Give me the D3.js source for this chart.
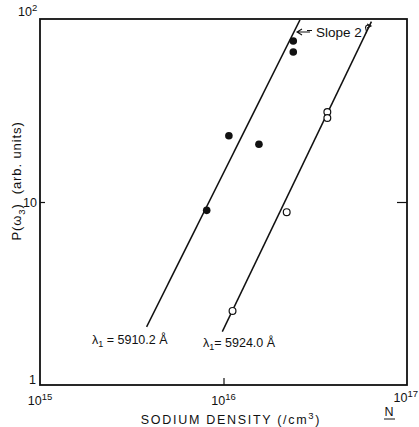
<!DOCTYPE html>
<meta charset="utf-8">
<script src="https://d3js.org/d3.v7.min.js"></script>
<style>
  body { margin: 0; background: #fff; }
  text { font-family: "Liberation Sans", Arial, sans-serif; fill: #111; }
</style>
<div id="my_dataviz"></div>
<script>

// filled dots: lambda1 = 5910.2 A
var filledN = [8.1e15, 1.07e16, 1.56e16, 2.40e16, 2.40e16];
var filledP = [9.0, 23.0, 20.7, 75.8, 66.0];

// open dots: lambda1 = 5924.0 A
var openN = [1.12e16, 2.21e16, 3.68e16, 3.68e16];
var openP = [2.54, 8.8, 31.0, 28.8];

// slope-2 fit lines (end points)
var lineFilledN = [3.81e15, 2.61e16];
var lineFilledP = [2.08, 98.8];
var lineOpenN = [9.85e15, 6.4e16];
var lineOpenP = [1.956, 96.7];

// tick labels
var xTicks = [1e15, 1e16, 1e17];
var xTickExp = ["15", "16", "17"];

var W = 419, H = 427;
var margin = {top: 19, right: 12, bottom: 42, left: 40};

var svg = d3.select("#my_dataviz")
  .append("svg")
    .attr("width", W)
    .attr("height", H);

var x = d3.scaleLog()
  .domain([1e15, 1e17])
  .range([margin.left, W - margin.right]);

var y = d3.scaleLog()
  .domain([1, 100])
  .range([H - margin.bottom, margin.top]);

// frame
svg.append("rect")
  .attr("x", x(1e15))
  .attr("y", y(100))
  .attr("width", x(1e17) - x(1e15))
  .attr("height", y(1) - y(100))
  .attr("fill", "none")
  .attr("stroke", "#111")
  .attr("stroke-width", 1.8);

// inward ticks
svg.append("g")
  .attr("transform", "translate(0," + y(1) + ")")
  .call(d3.axisBottom(x).tickValues([1e16]).tickSize(-7).tickFormat(""));
svg.append("g")
  .attr("transform", "translate(" + x(1e15) + ",0)")
  .call(d3.axisLeft(y).tickValues([10]).tickSize(-5).tickFormat(""));
svg.append("g")
  .attr("transform", "translate(" + x(1e17) + ",0)")
  .call(d3.axisRight(y).tickValues([10]).tickSize(-10).tickFormat(""));
svg.selectAll(".domain").remove();
svg.selectAll(".tick line").attr("stroke", "#111").attr("stroke-width", 1.2);

// x tick labels
var xl = svg.selectAll(".xlab")
  .data(xTicks)
  .enter()
  .append("text")
    .attr("x", function(d, i) { return i == 2 ? 418 : x(d); })
    .attr("y", function(d, i) { return y(1) + (i == 2 ? 17 : 20); })
    .attr("text-anchor", function(d, i) { return i == 2 ? "end" : "middle"; })
    .style("font-size", "12.5px");
xl.append("tspan").text("10");
xl.append("tspan")
  .attr("dy", -5)
  .style("font-size", "9.5px")
  .text(function(d, i) { return xTickExp[i]; });

// y tick labels
var y2 = svg.append("text")
  .attr("x", x(1e15) - 22)
  .attr("y", y(100) - 3)
  .style("font-size", "12.5px");
y2.append("tspan").text("10");
y2.append("tspan").attr("dy", -5).style("font-size", "9.5px").text("2");

svg.append("text")
  .attr("x", x(1e15) - 3)
  .attr("y", y(10) + 5)
  .attr("text-anchor", "end")
  .style("font-size", "12.5px")
  .text("10");

svg.append("text")
  .attr("x", x(1e15) - 4)
  .attr("y", y(1) - 1)
  .attr("text-anchor", "end")
  .style("font-size", "12.5px")
  .text("1");

// axis titles
var xt = svg.append("text")
  .attr("x", 231)
  .attr("y", 424)
  .attr("text-anchor", "middle")
  .style("font-size", "12.5px")
  .style("letter-spacing", "1.7px");
xt.append("tspan").text("SODIUM DENSITY (/cm");
xt.append("tspan").attr("dy", -5).style("font-size", "9.5px").text("3");
xt.append("tspan").attr("dy", 5).text(")");

svg.append("text")
  .attr("x", 389)
  .attr("y", 416)
  .attr("text-anchor", "middle")
  .style("font-size", "12.5px")
  .text("N");
svg.append("line")
  .attr("x1", 384).attr("x2", 395)
  .attr("y1", 419).attr("y2", 419)
  .attr("stroke", "#111").attr("stroke-width", 1);

var yt = svg.append("text")
  .attr("transform", "translate(21,181) rotate(-90)")
  .attr("text-anchor", "middle")
  .style("font-size", "13px")
  .style("letter-spacing", "0.9px");
yt.append("tspan").text("P(\u03c9");
yt.append("tspan").attr("dy", 4).style("font-size", "9.5px").text("3");
yt.append("tspan").attr("dy", -4).text(")\u00a0\u00a0(arb. units)");

// fit lines
var line = d3.line()
  .x(function(d) { return x(d[0]); })
  .y(function(d) { return y(d[1]); });

svg.append("path")
  .datum(d3.zip(lineFilledN, lineFilledP))
  .attr("d", line)
  .attr("fill", "none")
  .attr("stroke", "#111")
  .attr("stroke-width", 1.5);

svg.append("path")
  .datum(d3.zip(lineOpenN, lineOpenP))
  .attr("d", line)
  .attr("fill", "none")
  .attr("stroke", "#111")
  .attr("stroke-width", 1.5);

// points
svg.selectAll(".filled")
  .data(d3.zip(filledN, filledP))
  .enter()
  .append("circle")
    .attr("cx", function(d) { return x(d[0]); })
    .attr("cy", function(d) { return y(d[1]); })
    .attr("r", 3.8)
    .attr("fill", "#111");

svg.selectAll(".open")
  .data(d3.zip(openN, openP))
  .enter()
  .append("circle")
    .attr("cx", function(d) { return x(d[0]); })
    .attr("cy", function(d) { return y(d[1]); })
    .attr("r", 3.4)
    .attr("fill", "#fff")
    .attr("stroke", "#111")
    .attr("stroke-width", 1.2);

// line labels
var l1 = svg.append("text")
  .attr("x", 92)
  .attr("y", 344)
  .style("font-size", "12.5px");
l1.append("tspan").text("\u03bb");
l1.append("tspan").attr("dy", 3).style("font-size", "9px").text("1");
l1.append("tspan").attr("dy", -3).text(" = 5910.2 \u00c5");

var l2 = svg.append("text")
  .attr("x", 203)
  .attr("y", 347)
  .style("font-size", "12.5px");
l2.append("tspan").text("\u03bb");
l2.append("tspan").attr("dy", 3).style("font-size", "9px").text("1");
l2.append("tspan").attr("dy", -3).text("= 5924.0 \u00c5");

// slope annotation
svg.append("text")
  .attr("x", 316)
  .attr("y", 37)
  .style("font-size", "13.5px")
  .text("Slope 2");

svg.append("path")
  .attr("d", "M310,32 L298,32 M302,29 L297,32 L302,35 M307,30.5 L312,30.5")
  .attr("fill", "none")
  .attr("stroke", "#111")
  .attr("stroke-width", 1.1);

svg.append("path")
  .attr("d", "M366,33 C368,31 364,28 366,26 C368,24 369,26 371,26 M367,24 L371,26 L367,28")
  .attr("fill", "none")
  .attr("stroke", "#111")
  .attr("stroke-width", 1.1);

</script>
